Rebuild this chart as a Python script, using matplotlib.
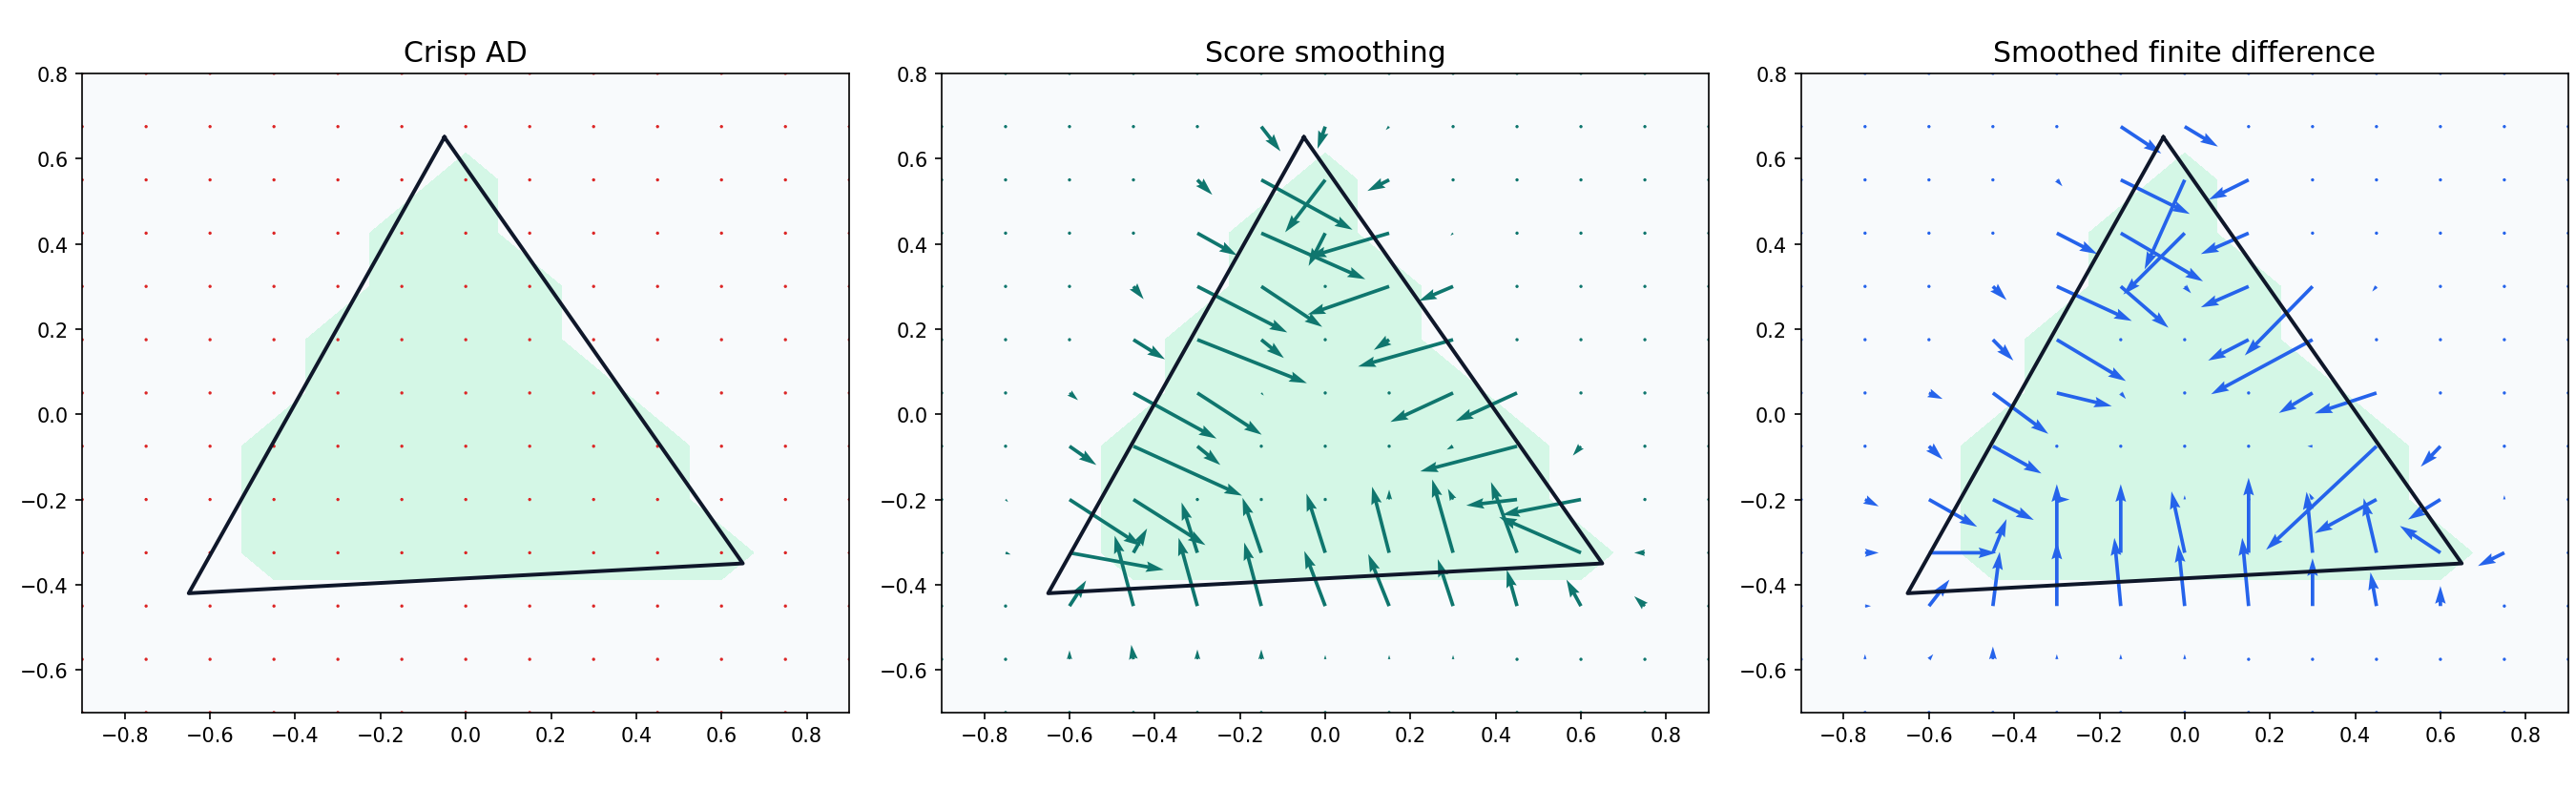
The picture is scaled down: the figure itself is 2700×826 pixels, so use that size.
import numpy as np
import matplotlib.pyplot as plt


# grid of sample points (edges of the axes included)
grid_x = [-0.9, -0.75, -0.6, -0.45, -0.3, -0.15, 0.0, 0.15, 0.3, 0.45, 0.6, 0.75, 0.9]
grid_y = [0.8, 0.675, 0.55, 0.425, 0.3, 0.175, 0.05, -0.075, -0.2, -0.325, -0.45, -0.575, -0.7]

# triangle
tri_x = [-0.05, -0.65, 0.65]
tri_y = [0.65, -0.42, -0.35]

titles = ["Crisp AD", "Score smoothing", "Smoothed finite difference"]
colors = ["#dc2626", "#0f766e", "#2563eb"]

# interior points (rows top -> bottom, cols x=-0.75..0.75) that fall inside the triangle
inside = [
    [0, 0, 0, 0, 0, 0, 0, 0, 0, 0, 0],
    [0, 0, 0, 0, 0, 1, 0, 0, 0, 0, 0],
    [0, 0, 0, 0, 1, 1, 0, 0, 0, 0, 0],
    [0, 0, 0, 0, 1, 1, 1, 0, 0, 0, 0],
    [0, 0, 0, 1, 1, 1, 1, 0, 0, 0, 0],
    [0, 0, 0, 1, 1, 1, 1, 1, 0, 0, 0],
    [0, 0, 1, 1, 1, 1, 1, 1, 1, 0, 0],
    [0, 0, 1, 1, 1, 1, 1, 1, 1, 0, 0],
    [0, 0, 1, 1, 1, 1, 1, 1, 1, 1, 0],
    [0, 0, 0, 0, 0, 0, 0, 0, 0, 0, 0],
    [0, 0, 0, 0, 0, 0, 0, 0, 0, 0, 0],
]

# crisp AD: gradient is zero everywhere
crisp_u = np.zeros((11, 11))
crisp_v = np.zeros((11, 11))

# score smoothing
score_u = [
    [0, 0, 0, 0, 0.045, -0.018, -0.008, 0, 0, 0, 0],
    [0, 0, 0, 0.035, 0.214, -0.094, -0.051, 0, 0, 0, 0],
    [0, 0, 0, 0.093, 0.244, -0.039, -0.189, -0.006, 0, 0, 0],
    [0, 0, 0.024, 0.211, 0.143, -0.005, -0.191, -0.080, 0, 0, 0],
    [0, 0, 0.074, 0.257, 0.053, 0, -0.036, -0.223, -0.005, 0, 0],
    [0, 0.020, 0.195, 0.151, 0.006, 0, -0.005, -0.147, -0.144, -0.006, 0],
    [0, 0.063, 0.255, 0.054, 0, 0, 0, -0.015, -0.227, -0.019, 0],
    [0.006, 0.168, 0.169, 0, 0, 0, 0, -0.012, -0.119, -0.185, -0.005],
    [0.012, 0.221, 0.032, -0.037, -0.044, -0.044, -0.040, -0.049, -0.061, -0.192, -0.025],
    [0, 0.039, -0.044, -0.044, -0.040, -0.049, -0.049, -0.036, -0.024, -0.034, -0.025],
    [0, 0, -0.005, 0, 0, 0, 0, 0, 0, 0, 0],
]
score_v = [
    [0, 0, 0, 0, -0.058, -0.052, -0.008, 0, 0, 0, 0],
    [0, 0, 0, -0.035, -0.117, -0.123, -0.026, 0, 0, 0, 0],
    [0, 0, 0, -0.052, -0.108, -0.077, -0.056, -0.006, 0, 0, 0],
    [0, 0, -0.030, -0.108, -0.095, -0.004, -0.066, -0.034, 0, 0, 0],
    [0, 0, -0.046, -0.102, -0.043, 0, -0.024, -0.063, -0.005, 0, 0],
    [0, -0.017, -0.107, -0.098, -0.006, 0, -0.005, -0.068, -0.066, -0.005, 0],
    [0, -0.044, -0.116, -0.044, 0, 0, 0, -0.008, -0.059, -0.022, 0],
    [-0.006, -0.109, -0.107, 0, 0.006, 0.006, 0.023, 0.025, -0.014, -0.036, -0.005],
    [-0.004, -0.040, 0.057, 0.118, 0.129, 0.139, 0.155, 0.172, 0.166, 0.084, 0.0],
    [0, 0.060, 0.165, 0.160, 0.149, 0.129, 0.122, 0.110, 0.085, 0.062, 0.023],
    [0, 0.021, 0.034, 0.023, 0.023, 0.010, 0.010, 0.010, 0, 0, 0],
]

# smoothed finite difference
sfd_u = [
    [0, 0, 0, 0, 0.095, 0.078, 0, 0, 0, 0, 0],
    [0, 0, 0, 0.013, 0.162, -0.094, -0.093, 0, 0, 0, 0],
    [0, 0, 0, 0.095, 0.193, -0.144, -0.112, 0, 0, 0, 0],
    [0, 0, 0.032, 0.176, 0.112, 0.015, -0.112, -0.159, -0.010, 0, 0],
    [0, 0, 0.048, 0.162, 0, 0, -0.095, -0.238, 0, 0, 0],
    [0, 0.032, 0.130, 0.129, 0.012, 0, 0, -0.079, -0.145, 0, 0],
    [0, 0.032, 0.114, 0, 0, 0, 0, -0.012, -0.259, -0.046, 0],
    [0.032, 0.113, 0.096, 0.030, 0, 0, 0, -0.008, -0.145, -0.076, 0],
    [0.032, 0.158, 0.032, 0, 0, -0.031, 0, -0.014, -0.030, -0.095, -0.062],
    [0.014, 0.048, 0.016, 0, -0.015, -0.015, -0.015, 0, -0.014, 0, 0],
    [0, 0.010, 0, 0, 0, 0, 0, 0, 0, 0, 0],
]
sfd_v = [
    [0, 0, 0, 0, -0.063, -0.047, 0, 0, 0, 0, 0],
    [0, 0, 0, -0.015, -0.080, -0.210, -0.046, 0, 0, 0, 0],
    [0, 0, 0, -0.049, -0.113, -0.144, -0.049, 0, 0, 0, 0],
    [0, 0, -0.032, -0.081, -0.097, -0.016, -0.049, -0.162, -0.012, 0, 0],
    [0, 0, -0.049, -0.097, 0, 0, -0.049, -0.128, 0, 0, 0],
    [0, -0.014, -0.096, -0.031, -0.014, 0, 0, -0.047, -0.048, 0, 0],
    [0, -0.031, -0.064, 0, 0, 0, 0, 0, -0.243, -0.048, 0],
    [-0.016, -0.064, -0.048, 0, 0, 0.010, 0, 0.015, -0.079, -0.047, 0.010],
    [0, 0, 0.079, 0.161, 0.161, 0.144, 0.176, 0.143, 0.128, 0.063, -0.031],
    [0, 0.062, 0.127, 0.151, 0.160, 0.144, 0.160, 0.112, 0.079, 0.047, 0],
    [0.012, 0.012, 0.030, 0.012, 0.012, 0.012, 0, 0, 0, 0, 0],
]

xticks = [-0.8, -0.6, -0.4, -0.2, 0.0, 0.2, 0.4, 0.6, 0.8]
yticks = [-0.6, -0.4, -0.2, 0.0, 0.2, 0.4, 0.6, 0.8]


def pad(a):
    # zero vectors on the points lying on the axes edges
    return np.pad(np.asarray(a, dtype=float), 1)


X, Y = np.meshgrid(grid_x, grid_y)
mask = pad(inside)
fields = [(crisp_u, crisp_v), (score_u, score_v), (sfd_u, sfd_v)]

fig, axes = plt.subplots(1, 3, figsize=(18, 5.513))
fig.subplots_adjust(left=0.0319, right=0.997, bottom=0.0952, top=0.9063, wspace=0.1203)

for ax, title, (u, v), color in zip(axes, titles, fields, colors):
    ax.set_facecolor("#f8fafc")
    ax.contourf(X, Y, mask, levels=[0.5, 1.5], colors=["#d4f7e6"])
    ax.quiver(X, Y, pad(u), pad(v), color=color, angles="xy", scale_units="xy", scale=1)
    ax.plot(tri_x + tri_x[:1], tri_y + tri_y[:1], color="#0f172a", lw=1.9)
    ax.set_xlim(-0.9, 0.9)
    ax.set_ylim(-0.7, 0.8)
    ax.set_aspect("equal")
    ax.set_xticks(xticks)
    ax.set_yticks(yticks)
    ax.set_title(title, fontsize=14.4)

fig.savefig("out.png", dpi=150)
